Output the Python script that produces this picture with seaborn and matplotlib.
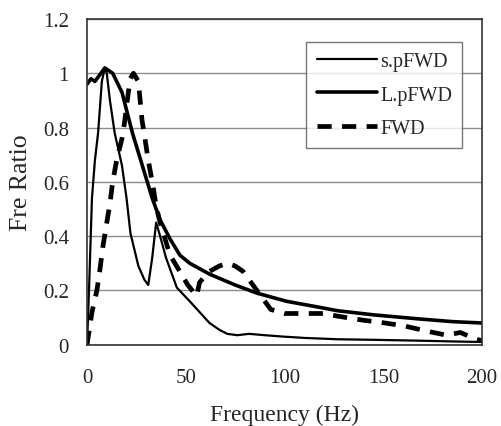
import matplotlib
matplotlib.use("Agg")
import matplotlib.pyplot as plt
import seaborn as sns

# s.pFWD (thin solid)
s_freq = [0, 1, 2.5, 4, 5.6, 7.5, 9, 10, 11.6, 14, 17.7, 20, 22, 26, 29, 31, 33, 35, 37, 40,
          45.5, 52, 57, 62, 67, 71, 76, 82, 90, 99, 110, 127, 145, 167, 185, 200]
s_ratio = [0, 0.2, 0.54, 0.68, 0.78, 0.97, 1.02, 1.0, 0.9, 0.78, 0.66, 0.54, 0.41, 0.29, 0.24, 0.22,
           0.32, 0.45, 0.40, 0.32, 0.21, 0.16, 0.12, 0.08, 0.055, 0.04, 0.035, 0.04, 0.035, 0.03,
           0.025, 0.02, 0.018, 0.015, 0.012, 0.01]

# L.pFWD (thick solid)
l_freq = [0, 2, 4, 6, 9, 13, 17.7, 23, 28, 33, 37, 42, 47, 52, 62, 75, 86, 101, 116, 127,
          145, 168, 185, 200]
l_ratio = [0.96, 0.98, 0.97, 0.99, 1.02, 1.0, 0.93, 0.78, 0.66, 0.54, 0.46, 0.39, 0.33, 0.30,
           0.26, 0.22, 0.19, 0.16, 0.14, 0.125, 0.11, 0.095, 0.085, 0.08]

# FWD (dashed)
f_freq = [0, 2.5, 5, 6.6, 8, 10, 11.6, 13, 15, 17.7, 19, 21.8, 23.5, 26, 27.8, 31, 33.5, 35, 37,
          42, 47, 51, 55.5, 57, 62, 67, 71, 75, 79, 86, 93, 100, 110, 120, 127, 140, 148, 160,
          174, 182, 189, 197, 200]
f_ratio = [0, 0.12, 0.2, 0.28, 0.36, 0.45, 0.52, 0.6, 0.68, 0.76, 0.82, 0.98, 1.0, 0.97, 0.83,
           0.68, 0.58, 0.51, 0.45, 0.33, 0.27, 0.22, 0.18, 0.23, 0.27, 0.29, 0.30, 0.29, 0.27,
           0.2, 0.13, 0.115, 0.115, 0.115, 0.105, 0.09, 0.083, 0.07, 0.047, 0.035, 0.045, 0.02,
           0.015]

x_ticks = [0, 50, 100, 150, 200]
y_ticks = [0, 0.2, 0.4, 0.6, 0.8, 1.0, 1.2]
y_labels = ["0", "0.2", "0.4", "0.6", "0.8", "1", "1.2"]

sns.set_style("white")
plt.rcParams["font.family"] = ["Liberation Serif", "DejaVu Serif"]

fig = plt.figure(figsize=(5.01, 4.27), dpi=100)
ax = fig.add_axes([0.1737, 0.1904, 0.7885, 0.7627])

sns.lineplot(x=s_freq, y=s_ratio, ax=ax, color="black", lw=1.6, sort=False, label="s.pFWD")
sns.lineplot(x=l_freq, y=l_ratio, ax=ax, color="black", lw=2.6, sort=False, label="L.pFWD")
sns.lineplot(x=f_freq, y=f_ratio, ax=ax, color="black", lw=3.4, sort=False, label="FWD")
ax.lines[-1].set_dashes([3, 2.2])

ax.set_xlim(0, 200)
ax.set_ylim(0, 1.2)
ax.set_xticks(x_ticks)
ax.set_yticks(y_ticks)
ax.set_yticklabels(y_labels)
ax.tick_params(axis="x", direction="in", length=4, labelsize=15, pad=17, color="#555555")
ax.tick_params(axis="y", length=0, labelsize=15, pad=13)
ax.yaxis.grid(True, color="#8c8c8c", lw=1)
ax.set_axisbelow(True)
for sp in ax.spines.values():
    sp.set_color("#333333")
    sp.set_linewidth(1.2)

ax.set_xlabel("Frequency (Hz)", fontsize=17, labelpad=12)
ax.set_ylabel("Fre Ratio", fontsize=18.5, labelpad=8)

leg = ax.legend(loc="upper right", bbox_to_anchor=(0.949, 0.929), fontsize=14.5, frameon=True,
                fancybox=False, edgecolor="#555555", handlelength=3.0, handletextpad=0.15,
                borderpad=0.5, labelspacing=0.7, borderaxespad=0)
leg.get_frame().set_linewidth(1)

fig.savefig("out.png", dpi=100)
